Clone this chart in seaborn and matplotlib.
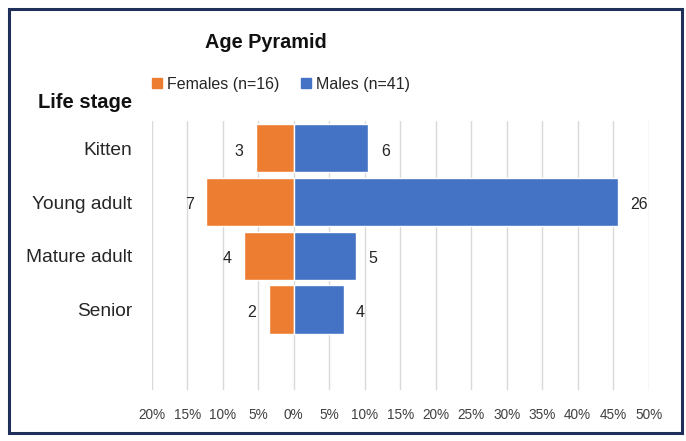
import matplotlib
matplotlib.use('Agg')
import matplotlib.pyplot as plt
from matplotlib.patches import Patch, Rectangle
import seaborn as sns
import pandas as pd

# data
stages = ['Kitten', 'Young adult', 'Mature adult', 'Senior']
females = [3, 7, 4, 2]
males = [6, 26, 5, 4]
n_total = 57
xticks = [-20, -15, -10, -5, 0, 5, 10, 15, 20, 25, 30, 35, 40, 45, 50]

ORANGE = '#ED7D31'
BLUE = '#4472C4'

sns.set_style('white')
plt.rcParams['font.family'] = ['Liberation Sans', 'DejaVu Sans']

rows = []
for s, f, m in zip(stages, females, males):
    rows.append({'stage': s, 'sex': 'Females', 'count': f, 'pct': -f / n_total * 100})
    rows.append({'stage': s, 'sex': 'Males', 'count': m, 'pct': m / n_total * 100})
df = pd.DataFrame(rows)

fig = plt.figure(figsize=(6.86, 4.41), dpi=100)
ax = fig.add_axes([0.2211, 0.1156, 0.7245, 0.609])

sns.barplot(data=df, x='pct', y='stage', hue='sex', order=stages,
            palette={'Females': ORANGE, 'Males': BLUE}, dodge=False, saturation=1,
            width=0.9, orient='h', ax=ax, legend=False, zorder=2)

ax.set_xlim(-20, 50)
ax.set_ylim(4.5, -0.5)
ax.set_xticks(xticks)
ax.set_xticklabels([f'{abs(t)}%' for t in xticks], fontsize=9.8, color='#404040')
ax.tick_params(axis='x', length=0, pad=13)
ax.tick_params(axis='y', length=0, pad=14, labelsize=13.8, labelcolor='#262626')
ax.set_xlabel('')
ax.set_ylabel('')
ax.xaxis.grid(True, color='#D9D9D9', lw=1, zorder=0)
ax.set_axisbelow(True)
sns.despine(ax=ax, left=True, bottom=True)

# count labels at the bar ends
for i, (f, m) in enumerate(zip(females, males)):
    ax.annotate(str(f), xy=(-f / n_total * 100, i), xytext=(-9, -2),
                textcoords='offset points', ha='right', va='center',
                fontsize=11.5, color='#262626')
    ax.annotate(str(m), xy=(m / n_total * 100, i), xytext=(9, -2),
                textcoords='offset points', ha='left', va='center',
                fontsize=11.5, color='#262626')

fig.text(266 / 686, 1 - 42 / 441, 'Age Pyramid', ha='center', va='center',
         fontsize=14.3, fontweight='bold', color='#111111')
fig.text(38 / 686, 1 - 103 / 441, 'Life stage', ha='left', va='center',
         fontsize=14.5, fontweight='bold', color='#111111')

handles = [Patch(color=ORANGE, label='Females (n=16)'),
           Patch(color=BLUE, label='Males (n=41)')]
fig.legend(handles=handles, loc='center left', bbox_to_anchor=(138 / 686, 1 - 84 / 441),
           ncol=2, frameon=False, fontsize=11.5, handlelength=0.6, handleheight=0.6,
           handletextpad=0.3, columnspacing=1.4, labelcolor='#262626')

# dark frame round the chart
fig.patches.append(Rectangle((9 / 686, 8 / 441), 673 / 686, 424 / 441, transform=fig.transFigure,
                             fill=False, edgecolor='#1F2F5A', lw=2.2))

fig.savefig('out.png', dpi=100)
